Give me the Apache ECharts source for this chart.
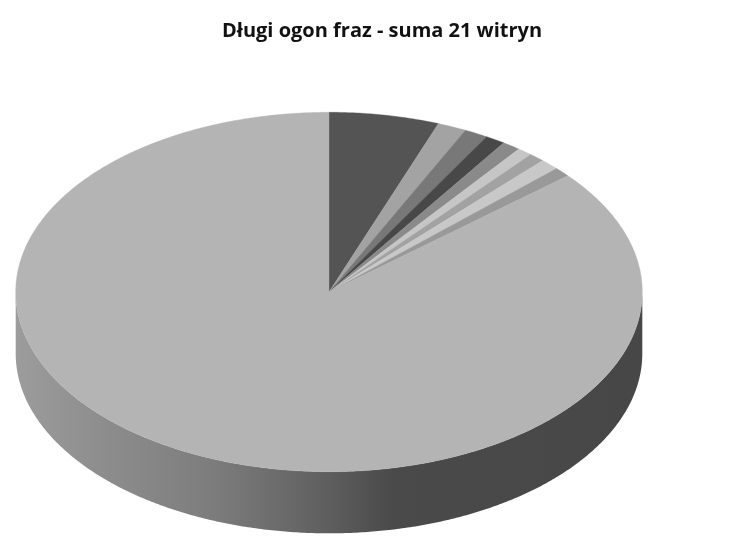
<!DOCTYPE html>
<html>
<head>
<meta charset="utf-8">
<style>html,body{margin:0;padding:0;background:#fff}#c{width:756px;height:559px}</style>
<script src="https://cdn.jsdelivr.net/npm/echarts@6/dist/echarts.min.js"></script>
</head>
<body>
<div id="c"></div>
<script>
const chartTitle = 'Długi ogon fraz - suma 21 witryn';
const sliceShares = [5.68, 1.49, 1.22, 1.03, 0.94, 0.78, 0.81, 0.99, 0.86, 86.2];
const sliceColors = ['#545454', '#a3a3a3', '#787878', '#484848', '#8a8a8a', '#c6c6c6', '#a2a2a2', '#c8c8c8', '#999999', '#b4b4b4'];
const rimStops = [[0, '#9c9c9c'], [0.15, '#8c8c8c'], [0.32, '#7c7c7c'], [0.5, '#5e5e5e'], [0.6, '#4a4a4a'], [1, '#474747']];
const rimDepth = 0.343;

const total = sliceShares.reduce((a, b) => a + b, 0);
const rimGradient = {
  type: 'linear', x: 0, y: 0, x2: 1, y2: 0,
  colorStops: rimStops.map(s => ({ offset: s[0], color: s[1] }))
};
function onRim(turn, drop) {
  const a = turn * 2 * Math.PI;
  return [Math.sin(a), Math.cos(a) - drop];
}
function arc(from, to, drop, api) {
  const n = Math.max(4, Math.ceil(Math.abs(to - from) * 720));
  const pts = [];
  for (let i = 0; i <= n; i++) pts.push(api.coord(onRim(from + (to - from) * i / n, drop)));
  return pts;
}
const chart = echarts.init(document.getElementById('c'), null, { renderer: 'canvas' });
chart.setOption({
  animation: false,
  backgroundColor: '#ffffff',
  title: {
    text: chartTitle, left: 217, top: 16,
    textStyle: { fontFamily: 'Open Sans', fontWeight: 'bold', fontSize: 20, color: '#111111' }
  },
  grid: { left: 15.7, top: 112.3, width: 626.6, height: 359.4, containLabel: false },
  xAxis: { type: 'value', min: -1, max: 1, show: false },
  yAxis: { type: 'value', min: -1, max: 1, show: false },
  series: [
    {
      type: 'custom', coordinateSystem: 'cartesian2d', silent: true, clip: false, z: 1,
      data: [[0, 0]],
      renderItem: function (params, api) {
        const top = arc(0.25, 0.75, 0, api);
        const bottom = arc(0.75, 0.25, rimDepth, api);
        return { type: 'polygon', shape: { points: top.concat(bottom) }, style: { fill: rimGradient } };
      }
    },
    {
      type: 'custom', coordinateSystem: 'cartesian2d', silent: true, clip: false, z: 2,
      data: sliceShares.map(v => [v, 0]),
      renderItem: function (params, api) {
        let before = 0;
        for (let i = 0; i < params.dataIndex; i++) before += sliceShares[i];
        const from = before / total, to = (before + api.value(0)) / total;
        const pts = [api.coord([0, 0])].concat(arc(from, to, 0, api));
        const col = sliceColors[params.dataIndex];
        return { type: 'polygon', shape: { points: pts }, style: { fill: col, stroke: col, lineWidth: 0.4 } };
      }
    }
  ]
});
</script>
</body>
</html>
